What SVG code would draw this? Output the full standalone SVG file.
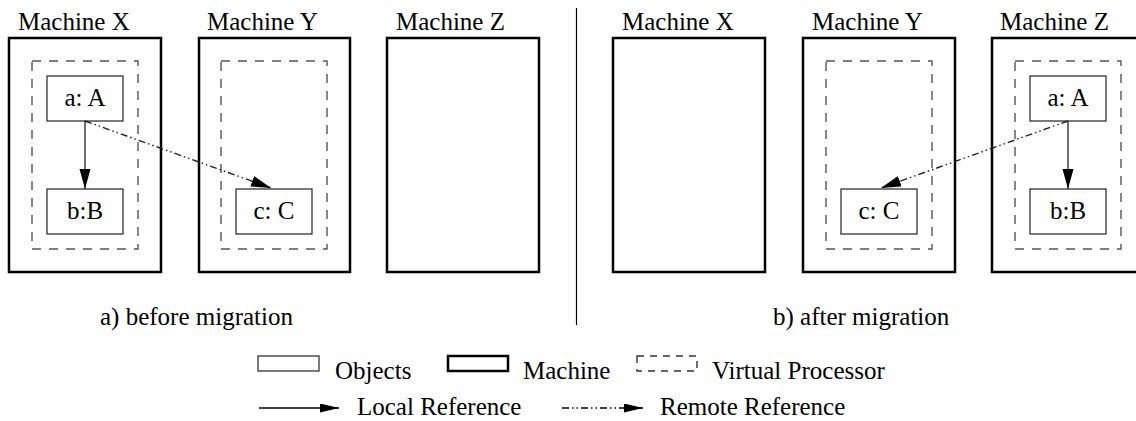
<svg xmlns="http://www.w3.org/2000/svg" width="1136" height="421" viewBox="0 0 1136 421">
<style>
text{font-family:"Liberation Serif","Times New Roman",serif;font-size:25px;fill:#000}
.mach{fill:none;stroke:#000;stroke-width:2.5}
.vp{fill:none;stroke:#555;stroke-width:1.4;stroke-dasharray:9 8}
.obj{fill:#fff;stroke:#222;stroke-width:1.2}
.local{fill:none;stroke:#333;stroke-width:1.4}
.remote{fill:none;stroke:#222;stroke-width:1.4;stroke-dasharray:7 3 1.5 3 1.5 3}
.mid{text-anchor:middle}
</style>
<defs>
<marker id="ah" markerUnits="userSpaceOnUse" markerWidth="21" markerHeight="12" refX="20" refY="5.5" orient="auto">
<path d="M0,0 L20,5.5 L0,11 z" fill="#000"/>
</marker>
<marker id="ahs" markerUnits="userSpaceOnUse" markerWidth="20" markerHeight="10" refX="19" refY="4.5" orient="auto">
<path d="M0,0 L19,4.5 L0,9 z" fill="#000"/>
</marker>
</defs>

<g id="before">
<g id="machineX1">
<rect class="mach" x="9" y="38" width="152" height="234"/>
<text x="18" y="30">Machine X</text>
<rect class="vp" x="32" y="61" width="106" height="188"/>
</g>
<g id="objA1"><rect class="obj" x="47" y="76" width="76" height="45"/><text class="mid" x="85" y="106">a: A</text></g>
<g id="objB1"><rect class="obj" x="47" y="189" width="76" height="45"/><text class="mid" x="85" y="219">b:B</text></g>
<g id="machineY1">
<rect class="mach" x="199" y="38" width="151" height="234"/>
<text x="207" y="30">Machine Y</text>
<rect class="vp" x="221" y="61" width="106" height="188"/>
</g>
<g id="objC1"><rect class="obj" x="236" y="189" width="76" height="45"/><text class="mid" x="274" y="219">c: C</text></g>
<g id="machineZ1">
<rect class="mach" x="387" y="38" width="152" height="234"/>
<text x="396" y="30">Machine Z</text>
</g>
<text id="captionA" x="100" y="325">a) before migration</text>
</g>

<line id="divider" x1="576.5" y1="8" x2="576.5" y2="325" stroke="#000" stroke-width="1.2"/>

<g id="after">
<g id="machineX2">
<rect class="mach" x="613" y="38" width="152" height="234"/>
<text x="622" y="30">Machine X</text>
</g>
<g id="machineY2">
<rect class="mach" x="803" y="38" width="152" height="234"/>
<text x="812" y="30">Machine Y</text>
<rect class="vp" x="826" y="61" width="106" height="188"/>
</g>
<g id="objC2"><rect class="obj" x="841" y="189" width="76" height="45"/><text class="mid" x="879" y="219">c: C</text></g>
<g id="machineZ2">
<rect class="mach" x="992" y="38" width="152" height="234"/>
<text x="1000" y="30">Machine Z</text>
<rect class="vp" x="1015" y="61" width="106" height="188"/>
</g>
<g id="objA2"><rect class="obj" x="1030" y="76" width="76" height="45"/><text class="mid" x="1068" y="106">a: A</text></g>
<g id="objB2"><rect class="obj" x="1030" y="189" width="76" height="45"/><text class="mid" x="1068" y="219">b:B</text></g>
<text id="captionB" x="773" y="325">b) after migration</text>
</g>

<g id="connectors">
<line class="local" x1="85" y1="121" x2="85" y2="189" marker-end="url(#ah)"/>
<line class="remote" x1="85" y1="121" x2="271" y2="188" marker-end="url(#ah)"/>
<line class="local" x1="1068" y1="121" x2="1068" y2="189" marker-end="url(#ah)"/>
<line class="remote" x1="1068" y1="121" x2="881" y2="188" marker-end="url(#ah)"/>
</g>

<g id="legend">
<g id="legObjects"><rect class="obj" x="258" y="356" width="61" height="15"/><text x="335" y="379">Objects</text></g>
<g id="legMachine"><rect class="mach" x="448" y="356" width="60" height="15"/><text x="523" y="379">Machine</text></g>
<g id="legVP"><rect class="vp" x="637" y="356" width="60" height="15" style="stroke:#333;stroke-dasharray:7 6"/><text x="712" y="379">Virtual Processor</text></g>
<g id="legLocal"><line x1="259" y1="408" x2="339" y2="408" stroke="#000" stroke-width="1.3" marker-end="url(#ahs)"/><text x="357" y="415">Local Reference</text></g>
<g id="legRemote"><line x1="562" y1="408" x2="643" y2="408" stroke="#000" stroke-width="1.3" style="stroke-dasharray:7 3 1.5 3 1.5 3" marker-end="url(#ahs)"/><text x="660" y="415">Remote Reference</text></g>
</g>
</svg>
